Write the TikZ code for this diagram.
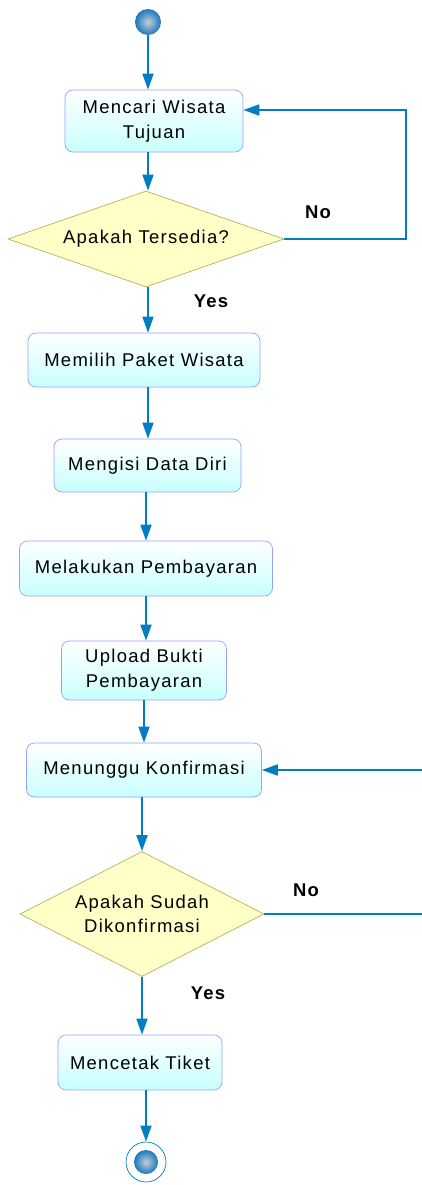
\documentclass[tikz,border=0pt]{standalone}
\usepackage{fontspec}
\setmainfont[LetterSpace=7]{Liberation Sans}
\usetikzlibrary{shapes.geometric,arrows.meta}
\definecolor{flow}{RGB}{0,125,195}
\definecolor{boxline}{RGB}{150,160,255}
\definecolor{boxfill}{RGB}{200,255,255}
\definecolor{decline}{RGB}{180,180,90}
\definecolor{decfill}{RGB}{255,255,200}
\definecolor{ballin}{RGB}{200,205,212}
\definecolor{ballout}{RGB}{25,120,190}

\begin{document}
\begin{tikzpicture}[
  act/.style={rectangle,rounded corners=0.16cm,draw=boxline,top color=white,bottom color=boxfill,align=center,font=\fontsize{10.5}{14}\selectfont},
  dec/.style={diamond,draw=decline,fill=decfill,align=center,inner sep=0pt,font=\fontsize{10.5}{14}\selectfont},
  ball/.style={circle,draw=none,inner color=ballin,outer color=ballout},
  flw/.style={draw=flow,line width=1pt,-{Triangle[length=0.32cm,width=0.22cm]}},
  lbl/.style={font=\fontsize{10.5}{12}\selectfont\bfseries}]
\useasboundingbox (0,0) rectangle (8.42,-23.7);
% \draw[help lines] (0,0) grid (8,-23);
\node (s0) [ball,minimum size=0.52cm] at (2.96,-0.44) {};
\node (a1) [act,minimum width=3.56cm,minimum height=1.24cm] at (3.08,-2.42) {Mencari Wisata\\Tujuan};
\node (d1) [dec,shape aspect=2.875,minimum width=5.52cm,minimum height=1.92cm] at (2.92,-4.78) {Apakah Tersedia?};
\node (a2) [act,minimum width=4.64cm,minimum height=1.08cm] at (2.88,-7.2) {Memilih Paket Wisata};
\node (a3) [act,minimum width=3.74cm,minimum height=1.06cm] at (2.95,-9.31) {Mengisi Data Diri};
\node (a4) [act,minimum width=5.06cm,minimum height=1.1cm] at (2.92,-11.37) {Melakukan Pembayaran};
\node (a5) [act,minimum width=3.3cm,minimum height=1.18cm] at (2.88,-13.41) {Upload Bukti\\Pembayaran};
\node (a6) [act,minimum width=4.7cm,minimum height=1.08cm] at (2.88,-15.4) {Menunggu Konfirmasi};
\node (d2) [dec,shape aspect=1.95,minimum width=4.88cm,minimum height=2.5cm] at (2.84,-18.28) {Apakah Sudah\\Dikonfirmasi};
\node (a7) [act,minimum width=3.28cm,minimum height=1.1cm] at (2.8,-21.25) {Mencetak Tiket};
\node (se) [circle,minimum size=0.8cm,draw=flow,fill=white,thin] at (2.92,-23.24) {};
\node (si) [ball,minimum size=0.48cm] at (se) {};
%
\coordinate (r1) at (8.12,-2.2);
\coordinate (r2) at (8.6,-15.4);
%
\draw[flw] (s0) -- (s0 |- a1.north);
\draw[flw] (s0 |- a1.south) -- (s0 |- d1.north);
\draw[flw] (s0 |- d1.south) -- (s0 |- a2.north);
\draw[flw] (s0 |- a2.south) -- (s0 |- a3.north);
\draw[flw] (a4.north |- a3.south) -- (a4.north);
\draw[flw] (a4.south) -- (a4.south |- a5.north);
\draw[flw] (a5.south) -- (a5.south |- a6.north);
\draw[flw] (d2.north |- a6.south) -- (d2.north);
\draw[flw] (d2.south) -- (d2.south |- a7.north);
\draw[flw] (se.north |- a7.south) -- (se.north);
\draw[flw] (d1.east) -| (r1) -- (r1 -| a1.east);
\draw[flw] (d2.east) -| (r2) -- (a6.east);
%
\node (no1) [lbl] at (6.36,-4.24) {No};
\node (yes1) [lbl] at (4.22,-6.02) {Yes};
\node (no2) [lbl] at (6.12,-17.8) {No};
\node (yes2) [lbl] at (4.16,-19.86) {Yes};
\end{tikzpicture}
\end{document}
